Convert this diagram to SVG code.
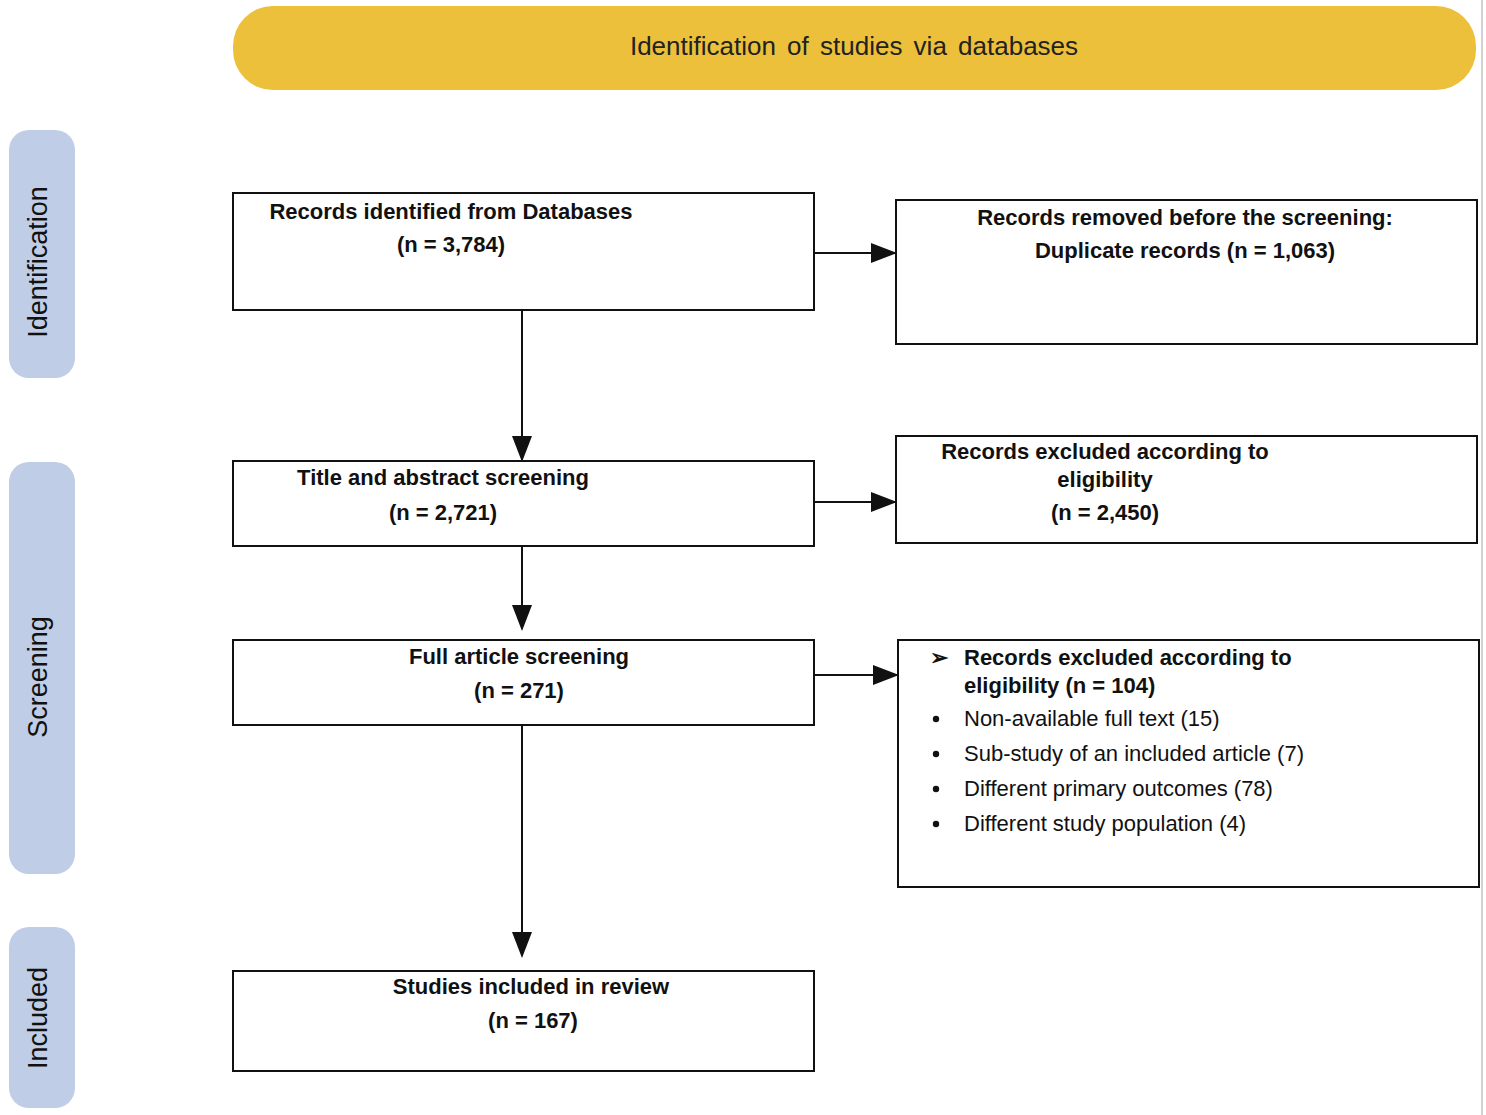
<svg xmlns="http://www.w3.org/2000/svg" width="1486" height="1115" viewBox="0 0 1486 1115">
<style>
.box{fill:#fff;stroke:#111;stroke-width:2}
.phase{fill:#bfcde6}
.b{font-family:"Liberation Sans",Arial,sans-serif;font-size:22px;font-weight:bold;fill:#111;text-anchor:middle}
.r{font-family:"Liberation Sans",Arial,sans-serif;font-size:22px;fill:#111}
.ph{font-family:"Liberation Sans",Arial,sans-serif;font-size:27px;fill:#111;text-anchor:middle}
.conn{stroke:#111;stroke-width:2;fill:none;marker-end:url(#ah)}
</style>
<defs>
<marker id="ah" markerWidth="13" markerHeight="10" refX="12" refY="5" orient="auto" markerUnits="strokeWidth">
<path d="M0,0 L13,5 L0,10 Z" fill="#111"/>
</marker>
</defs>
<rect width="1486" height="1115" fill="#fff"/>
<line x1="1482" y1="0" x2="1482" y2="1115" stroke="#d0d0d0" stroke-width="2"/>

<g id="banner">
<rect x="233" y="6" width="1243" height="84" rx="40" fill="#ecc03b"/>
<text x="854" y="55" font-family="'Liberation Sans',Arial,sans-serif" font-size="26" fill="#222" text-anchor="middle" word-spacing="4">Identification of studies via databases</text>
</g>

<g id="phase-identification">
<rect class="phase" x="9" y="130" width="66" height="248" rx="20"/>
<text class="ph" transform="translate(47,262) rotate(-90)">Identification</text>
</g>
<g id="phase-screening">
<rect class="phase" x="9" y="462" width="66" height="412" rx="20"/>
<text class="ph" transform="translate(47,677) rotate(-90)">Screening</text>
</g>
<g id="phase-included">
<rect class="phase" x="9" y="927" width="66" height="181" rx="20"/>
<text class="ph" transform="translate(47,1018) rotate(-90)">Included</text>
</g>

<g id="connectors">
<line class="conn" x1="522" y1="310" x2="522" y2="460"/>
<line class="conn" x1="522" y1="546" x2="522" y2="629"/>
<line class="conn" x1="522" y1="725" x2="522" y2="956"/>
<line class="conn" x1="814" y1="253" x2="895" y2="253"/>
<line class="conn" x1="814" y1="502" x2="895" y2="502"/>
<line class="conn" x1="814" y1="675" x2="897" y2="675"/>
</g>

<g id="records-identified">
<rect class="box" x="233" y="193" width="581" height="117"/>
<text class="b" x="451" y="219">Records identified from Databases</text>
<text class="b" x="451" y="252">(n = 3,784)</text>
</g>

<g id="records-removed">
<rect class="box" x="896" y="200" width="581" height="144"/>
<text class="b" x="1185" y="225">Records removed before the screening:</text>
<text class="b" x="1185" y="258">Duplicate records (n = 1,063)</text>
</g>

<g id="title-abstract">
<rect class="box" x="233" y="461" width="581" height="85"/>
<text class="b" x="443" y="485">Title and abstract screening</text>
<text class="b" x="443" y="520">(n = 2,721)</text>
</g>

<g id="records-excluded-1">
<rect class="box" x="896" y="436" width="581" height="107"/>
<text class="b" x="1105" y="459">Records excluded according to</text>
<text class="b" x="1105" y="487">eligibility</text>
<text class="b" x="1105" y="520">(n = 2,450)</text>
</g>

<g id="full-article">
<rect class="box" x="233" y="640" width="581" height="85"/>
<text class="b" x="519" y="664">Full article screening</text>
<text class="b" x="519" y="698">(n = 271)</text>
</g>

<g id="records-excluded-2">
<rect class="box" x="898" y="640" width="581" height="247"/>
<text class="r" x="930" y="665" font-weight="bold">➢</text>
<text class="b" x="964" y="665" text-anchor="start" style="text-anchor:start">Records excluded according to</text>
<text class="b" x="964" y="693" style="text-anchor:start">eligibility (n = 104)</text>
<circle cx="936" cy="719" r="3.2" fill="#111"/>
<text class="r" x="964" y="726">Non-available full text (15)</text>
<circle cx="936" cy="754" r="3.2" fill="#111"/>
<text class="r" x="964" y="761">Sub-study of an included article (7)</text>
<circle cx="936" cy="789" r="3.2" fill="#111"/>
<text class="r" x="964" y="796">Different primary outcomes (78)</text>
<circle cx="936" cy="824" r="3.2" fill="#111"/>
<text class="r" x="964" y="831">Different study population (4)</text>
</g>

<g id="studies-included">
<rect class="box" x="233" y="971" width="581" height="100"/>
<text class="b" x="531" y="994">Studies included in review</text>
<text class="b" x="533" y="1028">(n = 167)</text>
</g>
</svg>
